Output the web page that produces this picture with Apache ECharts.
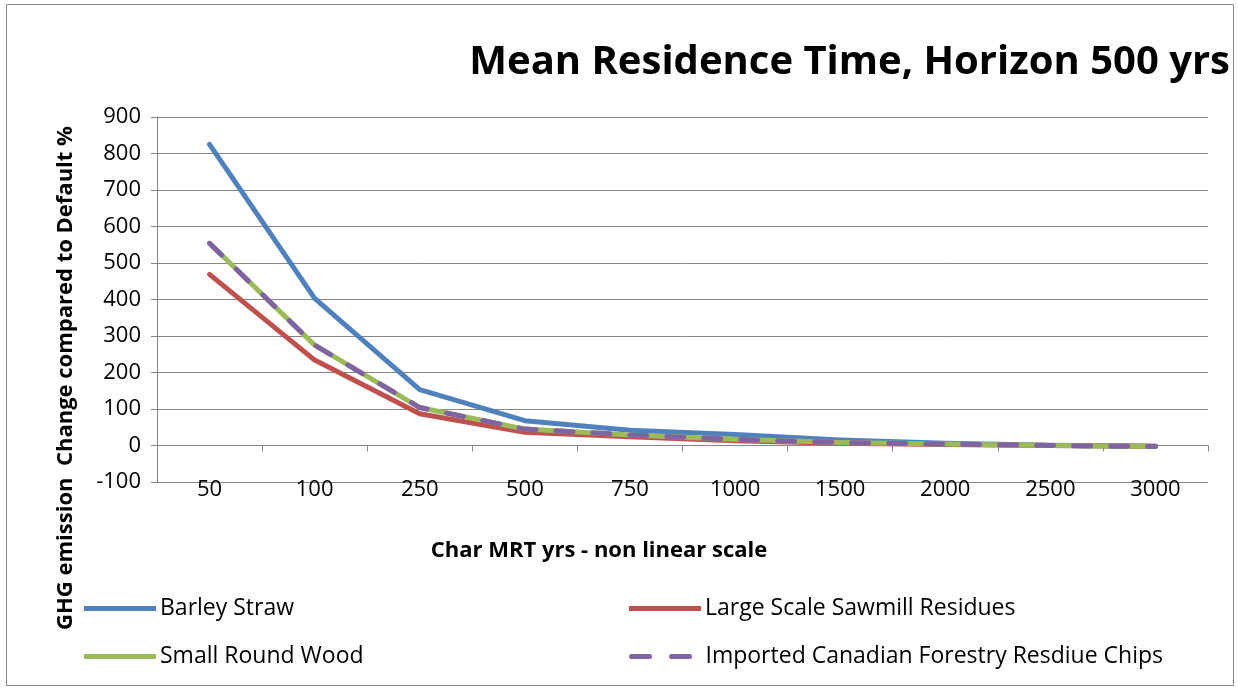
<!DOCTYPE html>
<html><head><meta charset="utf-8">
<script src="https://cdn.jsdelivr.net/npm/echarts@6/dist/echarts.min.js"></script>
<style>html,body{margin:0;padding:0;background:#fff}#c{width:1238px;height:690px}</style>
</head><body><div id="c"></div>
<script>
const categories = ['50','100','250','500','750','1000','1500','2000','2500','3000'];
const barleyStraw = [825, 403, 153, 68, 42, 30, 15, 6, 1, -2];
const sawmillResidues = [469, 234, 87, 36, 24, 13, 6, 3, 0, -2];
const smallRoundWood = [554, 275, 104, 45, 29, 17, 8, 4, 0, -3];
const canadianChips = [554, 275, 104, 45, 29, 17, 8, 4, 0, -3];
const seriesNames = ['Barley Straw','Large Scale Sawmill Residues','Small Round Wood','Imported Canadian Forestry Resdiue Chips'];
const yTicks = {min: -100, max: 900, interval: 100};

const FONT = 'Open Sans';
const gray = '#868686';
const chart = echarts.init(document.getElementById('c'));
const dashIcon = 'path://M2.5,0h18a2.5,2.5 0 0 1 0,5h-18a2.5,2.5 0 0 1 0,-5zM42.5,0h18a2.5,2.5 0 0 1 0,5h-18a2.5,2.5 0 0 1 0,-5z';
function lg(name, left, top, icon, w, padL) {
  return {data: [{name: name, icon: icon}], left: left, top: top, orient: 'horizontal', itemWidth: w, itemHeight: 5,
    itemGap: 0, padding: 0, textStyle: {fontFamily: FONT, fontSize: 23, color: '#000', padding: [0,0,0,padL]}};
}
chart.setOption({
  animation: false,
  backgroundColor: '#fff',
  title: {text: 'Mean Residence Time, Horizon 500 yrs', right: 8, top: 43, padding: 0,
    textStyle: {fontFamily: FONT, fontSize: 40, fontWeight: 'bold', color: '#000'}},
  grid: {left: 157, right: 30, top: 117, bottom: 208, containLabel: false},
  legend: [lg(seriesNames[0], 84, 597, 'rect', 72, -1), lg(seriesNames[1], 629, 597, 'rect', 72, -1),
           lg(seriesNames[2], 84, 645, 'rect', 72, -1), lg(seriesNames[3], 629, 645, dashIcon, 64, 8)],
  xAxis: [
    {type: 'category', data: categories, boundaryGap: true,
      axisLine: {onZero: true, lineStyle: {color: gray, width: 1}},
      axisTick: {show: true, alignWithLabel: false, length: 6, lineStyle: {color: gray}},
      axisLabel: {show: false}, splitLine: {show: false}},
    {type: 'category', data: categories, boundaryGap: true, position: 'bottom',
      axisLine: {show: false, onZero: false}, axisTick: {show: false},
      axisLabel: {show: true, fontFamily: FONT, fontSize: 22, color: '#000', margin: -3}}
  ],
  yAxis: {type: 'value', min: yTicks.min, max: yTicks.max, interval: yTicks.interval,
    axisLine: {show: true, lineStyle: {color: gray, width: 1}},
    axisTick: {show: true, length: 6, lineStyle: {color: gray}},
    axisLabel: {fontFamily: FONT, fontSize: 22, color: '#000', margin: 16},
    splitLine: {show: true, lineStyle: {color: gray, width: 1}}},
  graphic: [
    {type: 'rect', shape: {x: 6.5, y: 4.5, width: 1227, height: 681}, style: {fill: 'none', stroke: gray, lineWidth: 1}, silent: true, z: -1},
    {type: 'text', x: 66, y: 378, rotation: Math.PI / 2,
      style: {text: 'GHG emission  Change compared to Default %', fontFamily: FONT, fontSize: 22, fontWeight: 'bold',
        fill: '#000', align: 'center', verticalAlign: 'middle'}},
    {type: 'text', x: 599, y: 551,
      style: {text: 'Char MRT yrs - non linear scale', fontFamily: FONT, fontSize: 22, fontWeight: 'bold',
        fill: '#000', align: 'center', verticalAlign: 'middle'}}
  ],
  series: [
    {name: seriesNames[0], type: 'line', data: barleyStraw, symbol: 'none', color: '#4F81BD',
      lineStyle: {width: 5, color: '#4F81BD', cap: 'round', join: 'round'}},
    {name: seriesNames[1], type: 'line', data: sawmillResidues, symbol: 'none', color: '#C0504D',
      lineStyle: {width: 5, color: '#C0504D', cap: 'round', join: 'round'}},
    {name: seriesNames[2], type: 'line', data: smallRoundWood, symbol: 'none', color: '#9BBB59',
      lineStyle: {width: 5, color: '#9BBB59', cap: 'round', join: 'round'}},
    {name: seriesNames[3], type: 'line', data: canadianChips, symbol: 'none', color: '#8064A2',
      lineStyle: {width: 5, color: '#8064A2', type: [17, 20], cap: 'round', join: 'round'}}
  ]
});
</script></body></html>
